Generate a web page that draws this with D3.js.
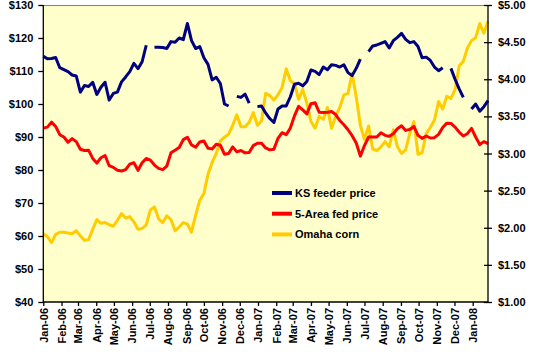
<!DOCTYPE html>
<html><head><meta charset="utf-8">
<script src="https://cdn.jsdelivr.net/npm/d3@7"></script>
<style>
body{margin:0;background:#fff;}
text{font-family:"Liberation Sans",Arial,sans-serif;font-weight:bold;font-size:11px;fill:#000;}
</style></head>
<body><svg id="c" width="546" height="357"></svg>
<script>
// weekly observations, first week starting 2006-01-01
const firstWeek = "2006-01-01";
const ksFeeder = [114.5,113.7,113.8,114.1,111.0,110.4,109.8,108.8,108.5,103.6,105.6,105.3,106.6,102.9,105.1,106.6,101.2,103.2,103.6,106.7,108.2,109.8,112.3,110.7,112.8,117.8,null,117.2,117.2,117.1,116.8,118.9,118.7,120.0,119.5,124.4,119.2,116.8,117.4,114.0,112.0,107.3,108.1,106.2,100.0,99.4,null,102.3,102.0,103.0,100.3,null,99.2,99.4,97.3,95.6,94.4,98.5,99.4,99.4,102.2,106.0,106.3,105.5,106.8,110.3,109.9,108.9,111.2,110.4,111.9,111.7,111.2,111.9,109.5,108.6,110.8,113.6,null,115.9,117.6,117.9,118.4,118.9,117.0,119.2,120.2,121.4,119.6,118.6,118.9,117.4,114.0,114.2,113.2,111.2,110.1,111.0,null,110.8,107.5,104.6,102.0,null,98.5,100.0,97.8,99.2,101.0];
const fedPrice = [92.7,93.0,94.5,93.2,90.7,90.0,88.4,89.5,88.6,86.3,85.9,86.0,83.5,82.1,83.7,84.4,81.3,80.8,79.9,79.7,80.1,81.8,82.2,79.9,82.2,83.5,83.0,81.5,80.5,80.1,81.2,85.2,86.0,86.8,89.2,89.9,87.6,86.9,88.5,88.8,86.6,86.4,87.8,87.5,84.8,85.0,87.0,85.5,85.9,85.2,85.3,87.4,88.1,88.1,86.7,86.1,86.3,89.6,91.3,90.7,92.7,96.4,99.3,98.2,97.0,100.1,100.4,97.5,97.4,97.5,97.7,96.8,95.0,93.7,92.2,90.4,88.2,84.2,87.4,90.0,90.0,90.0,91.3,90.5,90.2,91.0,92.5,93.4,92.0,92.3,93.2,90.5,89.6,90.3,89.7,89.8,90.8,92.9,94.2,94.1,93.0,91.5,90.3,91.0,92.6,90.0,87.7,88.6,88.0];
const omahaCorn = [1.92,1.88,1.80,1.91,1.94,1.94,1.93,1.92,1.96,1.89,1.83,1.84,1.98,2.11,2.06,2.07,2.04,2.02,2.10,2.19,2.13,2.15,2.08,1.98,1.99,2.04,2.24,2.28,2.12,2.07,2.16,2.11,1.96,2.01,2.07,2.05,1.94,2.17,2.37,2.46,2.72,2.88,3.00,3.17,3.22,3.26,3.38,3.52,3.36,3.36,3.42,3.55,3.38,3.44,3.81,3.78,3.72,3.79,3.89,4.14,3.98,3.94,3.73,3.86,3.68,3.43,3.34,3.50,3.46,3.62,3.34,3.50,3.62,3.79,3.81,4.08,3.76,3.38,3.19,3.37,3.06,3.04,3.09,3.16,3.09,3.32,3.09,3.00,3.05,3.27,3.43,2.99,3.01,3.27,3.35,3.45,3.70,3.60,3.77,3.74,3.86,4.18,4.24,4.42,4.52,4.56,4.75,4.62,4.78];
const leftTicks = [40,50,60,70,80,90,100,110,120,130];
const rightTicks = [1,1.5,2,2.5,3,3.5,4,4.5,5];
const seriesNames = ["KS feeder price","5-Area fed price","Omaha corn"];
const seriesColors = ["#000080","#FF0000","#FFCC00"];

const parse = d3.timeParse("%Y-%m-%d");
const start = parse(firstWeek);
const dates = ksFeeder.map((_, i) => d3.timeDay.offset(start, 7 * i));

const L = 43.3, R = 488, T = 5, B = 302;
const svg = d3.select("#c");
const x = d3.scaleTime().domain([start, parse("2008-01-27")]).range([L, R]);
const yL = d3.scaleLinear().domain([40, 130]).range([B, T]);
const yR = d3.scaleLinear().domain([1, 5]).range([B, T]);

svg.append("rect").attr("x", L).attr("y", T).attr("width", R - L).attr("height", B - T).attr("fill", "#FFFFCC");
svg.append("line").attr("x1", L).attr("x2", R).attr("y1", T + 0.5).attr("y2", T + 0.5).attr("stroke", "#808080").attr("stroke-width", 1);

function mkLine(vals, y) {
  return d3.line().defined(d => d != null).x((d, i) => x(dates[i])).y(d => y(d))(vals);
}
const data = [[ksFeeder, yL], [fedPrice, yL], [omahaCorn, yR]];
// draw corn first, then fed, then feeder (feeder on top)
[2, 1, 0].forEach(k => {
  svg.append("path").attr("d", mkLine(data[k][0], data[k][1]))
    .attr("fill", "none").attr("stroke", seriesColors[k]).attr("stroke-width", 3)
    .attr("stroke-linejoin", "round");
});

// axes
const gL = svg.append("g").attr("transform", `translate(${L},0)`)
  .call(d3.axisLeft(yL).tickValues(leftTicks).tickSize(5).tickPadding(5).tickFormat(d => "$" + d));
const gR = svg.append("g").attr("transform", `translate(${R},0)`)
  .call(d3.axisRight(yR).tickValues(rightTicks).tickSize(4).tickPadding(6).tickFormat(d => "$" + d.toFixed(2)));
gR.selectAll(".tick line").attr("x1", -4);
const gX = svg.append("g").attr("transform", `translate(0,${B})`)
  .call(d3.axisBottom(x).ticks(d3.timeMonth.every(1)).tickSize(4).tickFormat(d3.timeFormat("%b-%y")));
[gL, gR, gX].forEach(g => {
  g.select(".domain").attr("stroke", "#000").attr("stroke-width", 1.3);
  g.selectAll(".tick line").attr("stroke", "#000").attr("stroke-width", 1.3);
  g.selectAll("text").attr("font-family", null).attr("font-size", null).style("font-size", "11px").style("font-weight", "bold").attr("fill", "#000");
});
gL.select(".domain").attr("d", `M0,${B}V${T}`);
gR.select(".domain").attr("d", `M0,${B}V${T}`);
gX.select(".domain").attr("d", `M${L},0H${R}`);
gX.selectAll(".tick text").attr("transform", "rotate(-90)").attr("text-anchor", "end")
  .attr("x", -6).attr("y", 0).attr("dy", "0.35em");

// legend
const lg = svg.append("g");
seriesNames.forEach((n, k) => {
  const yy = 193 + k * 20.7;
  lg.append("line").attr("x1", 272).attr("x2", 292).attr("y1", yy).attr("y2", yy)
    .attr("stroke", seriesColors[k]).attr("stroke-width", 4);
  lg.append("text").attr("x", 295).attr("y", yy).attr("dy", "0.35em").text(n);
});
</script></body></html>
